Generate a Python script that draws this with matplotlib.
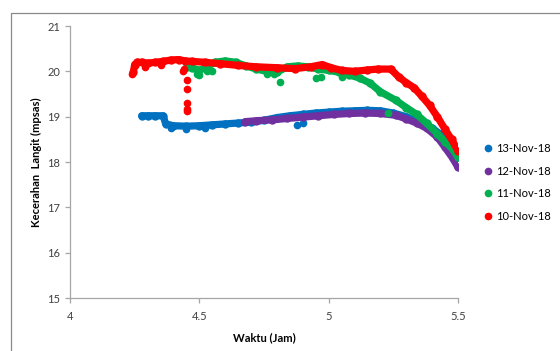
import matplotlib
matplotlib.use("Agg")
import matplotlib.pyplot as plt
from matplotlib.lines import Line2D
from matplotlib.patches import Rectangle

# (time in hours, sky brightness in mpsas)
x_13 = [4.277, 4.30, 4.33, 4.36, 4.37, 4.40, 4.45, 4.50, 4.55, 4.60, 4.65, 4.70, 4.75, 4.80,
        4.85, 4.90, 4.95, 5.00, 5.05, 5.10, 5.15, 5.20, 5.25, 5.30, 5.34, 5.37, 5.40, 5.43,
        5.456, 5.48, 5.50]
y_13 = [19.02, 19.02, 19.02, 19.02, 18.84, 18.80, 18.79, 18.80, 18.82, 18.84, 18.86, 18.88,
        18.92, 18.98, 19.02, 19.05, 19.08, 19.10, 19.12, 19.13, 19.14, 19.13, 19.08, 19.00,
        18.90, 18.82, 18.75, 18.62, 18.48, 18.30, 18.12]
x_13_out = [4.39, 4.45, 4.52, 4.876, 4.90]
y_13_out = [18.75, 18.73, 18.76, 18.82, 18.85]

x_12 = [4.677, 4.72, 4.78, 4.84, 4.90, 4.96, 5.02, 5.08, 5.14, 5.20, 5.26, 5.30, 5.34, 5.38,
        5.42, 5.45, 5.48, 5.50]
y_12 = [18.89, 18.91, 18.93, 18.96, 18.99, 19.02, 19.05, 19.07, 19.08, 19.07, 19.03, 18.95,
        18.86, 18.74, 18.55, 18.32, 18.08, 17.88]

x_11 = [4.452, 4.47, 4.50, 4.53, 4.56, 4.60, 4.64, 4.68, 4.72, 4.76, 4.80, 4.84, 4.88, 4.92,
        4.96, 5.00, 5.04, 5.08, 5.12, 5.16, 5.20, 5.26, 5.30, 5.34, 5.38, 5.42, 5.45, 5.48, 5.50]
y_11 = [20.10, 20.08, 20.02, 20.10, 20.20, 20.23, 20.20, 20.12, 20.05, 20.00, 19.98, 20.10,
        20.12, 20.10, 20.05, 20.02, 19.98, 19.92, 19.85, 19.74, 19.55, 19.36, 19.20, 19.05,
        18.85, 18.62, 18.45, 18.28, 18.10]
x_11_out = [4.49, 4.50, 4.53, 4.55, 4.76, 4.79, 4.81, 4.95, 4.97, 5.05, 5.23]
y_11_out = [19.95, 19.93, 20.00, 20.00, 19.95, 19.95, 19.77, 19.86, 19.88, 19.88, 19.09]

x_10 = [4.245, 4.25, 4.26, 4.28, 4.30, 4.33, 4.36, 4.39, 4.42, 4.445, 4.47, 4.52, 4.58, 4.65,
        4.72, 4.80, 4.87, 4.93, 4.975, 5.01, 5.05, 5.10, 5.15, 5.19, 5.24, 5.27, 5.30, 5.33,
        5.36, 5.39, 5.42, 5.45, 5.475, 5.50]
y_10 = [19.99, 20.15, 20.20, 20.20, 20.18, 20.20, 20.22, 20.25, 20.26, 20.23, 20.22, 20.20,
        20.17, 20.13, 20.10, 20.08, 20.06, 20.10, 20.15, 20.08, 20.02, 20.00, 20.03, 20.05,
        20.05, 19.88, 19.75, 19.64, 19.45, 19.25, 19.00, 18.72, 18.50, 18.25]
x_10_out = [4.24, 4.29, 4.35, 4.437, 4.44, 4.452, 4.452, 4.451, 4.452, 4.452]
y_10_out = [19.95, 20.10, 20.15, 20.00, 20.05, 19.81, 19.60, 19.31, 19.18, 19.13]

labels = ["13-Nov-18", "12-Nov-18", "11-Nov-18", "10-Nov-18"]
colors = ["#0070C0", "#7030A0", "#00B050", "#FF0000"]

plt.rcParams["font.family"] = ["Lato", "DejaVu Sans"]

fig = plt.figure(figsize=(5.6, 3.51), dpi=100)
ax = fig.add_axes([70 / 560, 1 - 298 / 351, 388 / 560, 272 / 351])

series = [(x_13, y_13, x_13_out, y_13_out),
          (x_12, y_12, [], []),
          (x_11, y_11, x_11_out, y_11_out),
          (x_10, y_10, x_10_out, y_10_out)]
for (xs, ys, xo, yo), c in zip(series, colors):
    ax.plot(xs, ys, "-o", color=c, lw=5.2, ms=5, solid_capstyle="round",
            solid_joinstyle="round")
    if xo:
        ax.plot(xo, yo, "o", color=c, ms=4.5, lw=0)

ax.set_xlim(4, 5.5)
ax.set_ylim(15, 21)
ax.set_xticks([4, 4.5, 5, 5.5])
ax.set_xticklabels(["4", "4.5", "5", "5.5"])
ax.set_yticks(range(15, 22))

for s in ["top", "right"]:
    ax.spines[s].set_visible(False)
for s in ["left", "bottom"]:
    ax.spines[s].set_color("#A6A6A6")
    ax.spines[s].set_linewidth(0.9)
ax.tick_params(colors="#A6A6A6", labelcolor="#404040", labelsize=8, length=3.5, width=0.9)
ax.tick_params(axis="x", pad=6)

ax.set_xlabel("Waktu (Jam)", fontsize=8, fontweight="bold", labelpad=7)
ax.set_ylabel("Kecerahan  Langit (mpsas)", fontsize=8, fontweight="bold", labelpad=4)

handles = [Line2D([], [], marker="o", lw=0, color=c, ms=4.5) for c in colors]
fig.legend(handles, labels, loc="upper left", frameon=False, fontsize=8,
           bbox_to_anchor=(484 / 560, 1 - 143 / 351), borderpad=0, borderaxespad=0,
           handlelength=0.7, handletextpad=0.4, labelspacing=1.05)

fig.patches.append(Rectangle((10.5 / 560, -0.1), 1.2, 1.1 - 12.5 / 351, fill=False,
                             edgecolor="#898989", lw=0.9, transform=fig.transFigure))

fig.savefig("out.png", dpi=100, facecolor="white")
